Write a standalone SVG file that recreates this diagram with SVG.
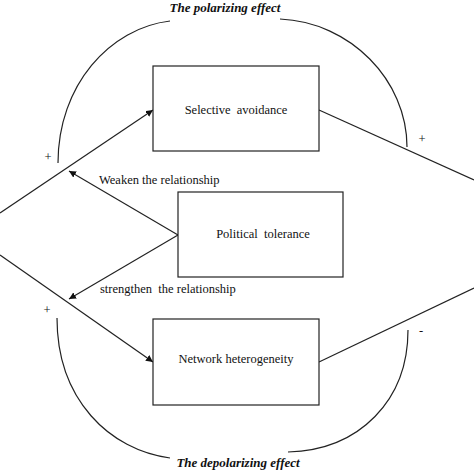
<svg xmlns="http://www.w3.org/2000/svg" width="474" height="474" viewBox="0 0 474 474">
<defs>
<style>
.box{fill:#fff;stroke:#222;stroke-width:1.2}
.ln{fill:none;stroke:#222;stroke-width:1.2}
.t{font-family:"Times New Roman","Liberation Serif",serif;font-size:12.5px;fill:#111;white-space:pre}
.h{font-family:"Times New Roman","Liberation Serif",serif;font-size:13px;font-weight:bold;font-style:italic;fill:#111}
</style>
<marker id="ah" viewBox="0 0 10 10" refX="10" refY="5" markerWidth="7" markerHeight="7" orient="auto" markerUnits="userSpaceOnUse">
<path d="M0,0 L10,5 L0,10 Z" fill="#111"/>
</marker>
</defs>
<rect width="474" height="474" fill="#fff"/>
<g id="connectors">
<path class="ln" d="M0,213 L153,110" marker-end="url(#ah)"/>
<path class="ln" d="M0,255 L153,362" marker-end="url(#ah)"/>
<path class="ln" d="M319,110 L474,180"/>
<path class="ln" d="M319,362 L474,288"/>
<path class="ln" d="M178,235 L69,171" marker-end="url(#ah)"/>
<path class="ln" d="M178,235 L69,299" marker-end="url(#ah)"/>
<path class="ln" d="M58,163 C58,85 110,28 170,21"/>
<path class="ln" d="M280,19 C350,22 407,80 407,147"/>
<path class="ln" d="M57,318 C57,400 110,450 170,458"/>
<path class="ln" d="M288,452 C360,450 408,400 408,330"/>
</g>
<g id="selective-avoidance">
<rect class="box" x="153" y="66" width="166" height="85"/>
<text class="t" x="236" y="114" text-anchor="middle" xml:space="preserve">Selective  avoidance</text>
</g>
<g id="political-tolerance">
<rect class="box" x="178" y="192" width="165" height="85"/>
<text class="t" x="263" y="238" text-anchor="middle" xml:space="preserve">Political  tolerance</text>
</g>
<g id="network-heterogeneity">
<rect class="box" x="153" y="319" width="166" height="86"/>
<text class="t" x="236" y="363" text-anchor="middle">Network heterogeneity</text>
</g>
<g id="labels">
<text class="h" x="225" y="12" text-anchor="middle">The polarizing effect</text>
<text class="h" x="238" y="467" text-anchor="middle">The depolarizing effect</text>
<text class="t" x="99" y="184">Weaken the relationship</text>
<text class="t" x="100" y="293" xml:space="preserve">strengthen  the relationship</text>
<text class="t" x="48" y="161" text-anchor="middle">+</text>
<text class="t" x="422" y="143" text-anchor="middle">+</text>
<text class="t" x="47" y="314" text-anchor="middle">+</text>
<text class="t" x="421" y="335" text-anchor="middle">-</text>
</g>
</svg>
